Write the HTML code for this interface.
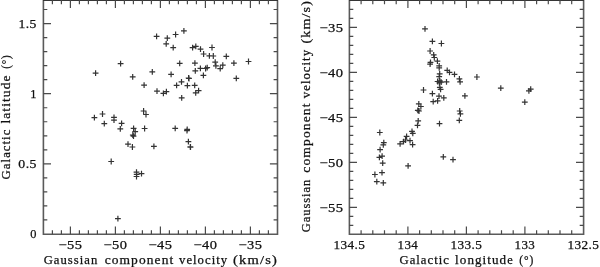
<!DOCTYPE html>
<html><head><meta charset="utf-8"><style>
html,body{margin:0;padding:0;background:#fff;width:600px;height:267px;overflow:hidden}
svg{display:block;will-change:transform}
text{font-family:"Liberation Serif",serif}
</style></head><body>
<svg width="600" height="267" viewBox="0 0 600 267">
<g fill="none" stroke="#5a5a5a" stroke-width="1.6"><path d="M43.4 0.3V234.2H277.5V0.3"/><path stroke="#363636" d="M42.9 0.3H278"/><path d="M349.4 0.3V234.2H583.6V0.3"/><path stroke="#363636" d="M348.9 0.3H584.1"/></g>
<path fill="none" stroke="#4a4a4a" stroke-width="1.2" d="M52.4 234.2v-3.9M52.4 0.3v3.9M61.4 234.2v-3.9M61.4 0.3v3.9M70.4 234.2v-7.6M70.4 0.3v7.6M79.4 234.2v-3.9M79.4 0.3v3.9M88.4 234.2v-3.9M88.4 0.3v3.9M97.4 234.2v-3.9M97.4 0.3v3.9M106.4 234.2v-3.9M106.4 0.3v3.9M115.4 234.2v-7.6M115.4 0.3v7.6M124.4 234.2v-3.9M124.4 0.3v3.9M133.4 234.2v-3.9M133.4 0.3v3.9M142.4 234.2v-3.9M142.4 0.3v3.9M151.4 234.2v-3.9M151.4 0.3v3.9M160.4 234.2v-7.6M160.4 0.3v7.6M169.4 234.2v-3.9M169.4 0.3v3.9M178.4 234.2v-3.9M178.4 0.3v3.9M187.4 234.2v-3.9M187.4 0.3v3.9M196.4 234.2v-3.9M196.4 0.3v3.9M205.4 234.2v-7.6M205.4 0.3v7.6M214.4 234.2v-3.9M214.4 0.3v3.9M223.4 234.2v-3.9M223.4 0.3v3.9M232.4 234.2v-3.9M232.4 0.3v3.9M241.4 234.2v-3.9M241.4 0.3v3.9M250.4 234.2v-7.6M250.4 0.3v7.6M259.4 234.2v-3.9M259.4 0.3v3.9M268.4 234.2v-3.9M268.4 0.3v3.9M43.4 219.97h3.9M277.5 219.97h-3.9M43.4 205.94h3.9M277.5 205.94h-3.9M43.4 191.91h3.9M277.5 191.91h-3.9M43.4 177.88h3.9M277.5 177.88h-3.9M43.4 163.85h7.6M277.5 163.85h-7.6M43.4 149.82h3.9M277.5 149.82h-3.9M43.4 135.79h3.9M277.5 135.79h-3.9M43.4 121.76h3.9M277.5 121.76h-3.9M43.4 107.73h3.9M277.5 107.73h-3.9M43.4 93.7h7.6M277.5 93.7h-7.6M43.4 79.67h3.9M277.5 79.67h-3.9M43.4 65.64h3.9M277.5 65.64h-3.9M43.4 51.61h3.9M277.5 51.61h-3.9M43.4 37.58h3.9M277.5 37.58h-3.9M43.4 23.55h7.6M277.5 23.55h-7.6M43.4 9.52h3.9M277.5 9.52h-3.9M361.1 234.2v-3.9M361.1 0.3v3.9M372.8 234.2v-3.9M372.8 0.3v3.9M384.5 234.2v-3.9M384.5 0.3v3.9M396.2 234.2v-3.9M396.2 0.3v3.9M407.9 234.2v-7.6M407.9 0.3v7.6M419.6 234.2v-3.9M419.6 0.3v3.9M431.3 234.2v-3.9M431.3 0.3v3.9M443 234.2v-3.9M443 0.3v3.9M454.7 234.2v-3.9M454.7 0.3v3.9M466.4 234.2v-7.6M466.4 0.3v7.6M478.1 234.2v-3.9M478.1 0.3v3.9M489.8 234.2v-3.9M489.8 0.3v3.9M501.5 234.2v-3.9M501.5 0.3v3.9M513.2 234.2v-3.9M513.2 0.3v3.9M524.9 234.2v-7.6M524.9 0.3v7.6M536.6 234.2v-3.9M536.6 0.3v3.9M548.3 234.2v-3.9M548.3 0.3v3.9M560 234.2v-3.9M560 0.3v3.9M571.7 234.2v-3.9M571.7 0.3v3.9M349.4 9.3h3.9M583.6 9.3h-3.9M349.4 18.3h3.9M583.6 18.3h-3.9M349.4 27.3h7.6M583.6 27.3h-7.6M349.4 36.3h3.9M583.6 36.3h-3.9M349.4 45.3h3.9M583.6 45.3h-3.9M349.4 54.3h3.9M583.6 54.3h-3.9M349.4 63.3h3.9M583.6 63.3h-3.9M349.4 72.3h7.6M583.6 72.3h-7.6M349.4 81.3h3.9M583.6 81.3h-3.9M349.4 90.3h3.9M583.6 90.3h-3.9M349.4 99.3h3.9M583.6 99.3h-3.9M349.4 108.3h3.9M583.6 108.3h-3.9M349.4 117.3h7.6M583.6 117.3h-7.6M349.4 126.3h3.9M583.6 126.3h-3.9M349.4 135.3h3.9M583.6 135.3h-3.9M349.4 144.3h3.9M583.6 144.3h-3.9M349.4 153.3h3.9M583.6 153.3h-3.9M349.4 162.3h7.6M583.6 162.3h-7.6M349.4 171.3h3.9M583.6 171.3h-3.9M349.4 180.3h3.9M583.6 180.3h-3.9M349.4 189.3h3.9M583.6 189.3h-3.9M349.4 198.3h3.9M583.6 198.3h-3.9M349.4 207.3h7.6M583.6 207.3h-7.6M349.4 216.3h3.9M583.6 216.3h-3.9M349.4 225.3h3.9M583.6 225.3h-3.9"/>
<path fill="none" stroke="#333" stroke-width="1.2" d="M92.7 73.2h5.8M95.6 70.3v5.8M117.7 63.6h5.8M120.6 60.7v5.8M129.8 76.8h5.8M132.7 73.9v5.8M153.7 36.3h5.8M156.6 33.4v5.8M164.4 38.2h5.8M167.3 35.3v5.8M163.3 43.9h5.8M166.2 41v5.8M172.7 34.5h5.8M175.6 31.6v5.8M181 30.8h5.8M183.9 27.9v5.8M170.3 47.7h5.8M173.2 44.8v5.8M189.7 47.6h5.8M192.6 44.7v5.8M192.9 46.4h5.8M195.8 43.5v5.8M197.6 49.1h5.8M200.5 46.2v5.8M209.1 47.5h5.8M212 44.6v5.8M200.7 54h5.8M203.6 51.1v5.8M206.5 55.8h5.8M209.4 52.9v5.8M210.4 56h5.8M213.3 53.1v5.8M223.4 56.3h5.8M226.3 53.4v5.8M176.8 63.4h5.8M179.7 60.5v5.8M192 63.2h5.8M194.9 60.3v5.8M212.3 62.1h5.8M215.2 59.2v5.8M213 65.9h5.8M215.9 63v5.8M219.9 65.2h5.8M222.8 62.3v5.8M231 63.2h5.8M233.9 60.3v5.8M245.6 61.5h5.8M248.5 58.6v5.8M149.4 71.9h5.8M152.3 69v5.8M168.2 74.4h5.8M171.1 71.5v5.8M192.4 70.8h5.8M195.3 67.9v5.8M197.5 68.3h5.8M200.4 65.4v5.8M202.7 68.5h5.8M205.6 65.6v5.8M204.3 67.7h5.8M207.2 64.8v5.8M200.5 75.4h5.8M203.4 72.5v5.8M185.7 78h5.8M188.6 75.1v5.8M186.1 78.5h5.8M189 75.6v5.8M217.3 68.7h5.8M220.2 65.8v5.8M233.4 78.4h5.8M236.3 75.5v5.8M141.2 85.1h5.8M144.1 82.2v5.8M154.1 91.1h5.8M157 88.2v5.8M160.5 93.4h5.8M163.4 90.5v5.8M163.5 91.6h5.8M166.4 88.7v5.8M173.7 85.3h5.8M176.6 82.4v5.8M178.6 81.8h5.8M181.5 78.9v5.8M184.5 85.7h5.8M187.4 82.8v5.8M191.8 85.4h5.8M194.7 82.5v5.8M195.7 90.7h5.8M198.6 87.8v5.8M192.8 92.9h5.8M195.7 90v5.8M178.8 97.9h5.8M181.7 95v5.8M91.5 117.7h5.8M94.4 114.8v5.8M99.6 114h5.8M102.5 111.1v5.8M101.4 123.6h5.8M104.3 120.7v5.8M111.1 117.4h5.8M114 114.5v5.8M111.1 120.2h5.8M114 117.3v5.8M118.7 123.3h5.8M121.6 120.4v5.8M117.4 128.8h5.8M120.3 125.9v5.8M130.7 128.3h5.8M133.6 125.4v5.8M132.3 131.7h5.8M135.2 128.8v5.8M129.9 135h5.8M132.8 132.1v5.8M130.6 136.2h5.8M133.5 133.3v5.8M141.7 128.5h5.8M144.6 125.6v5.8M125.1 144.2h5.8M128 141.3v5.8M129.5 147h5.8M132.4 144.1v5.8M140.7 111h5.8M143.6 108.1v5.8M143.1 114.5h5.8M146 111.6v5.8M172.3 128.3h5.8M175.2 125.4v5.8M184.3 129.3h5.8M187.2 126.4v5.8M184.1 130.6h5.8M187 127.7v5.8M185.5 141.6h5.8M188.4 138.7v5.8M187.4 146.8h5.8M190.3 143.9v5.8M187.6 147.2h5.8M190.5 144.3v5.8M108.3 161.5h5.8M111.2 158.6v5.8M133.6 172.2h5.8M136.5 169.3v5.8M133.8 174.4h5.8M136.7 171.5v5.8M133.6 176.5h5.8M136.5 173.6v5.8M138.6 173.7h5.8M141.5 170.8v5.8M115 218.7h5.8M117.9 215.8v5.8M151 146.4h5.8M153.9 143.5v5.8M422.1 28.8h5.8M425 25.9v5.8M429.5 41.4h5.8M432.4 38.5v5.8M438.5 43.5h5.8M441.4 40.6v5.8M427.2 51h5.8M430.1 48.1v5.8M430.8 54.9h5.8M433.7 52v5.8M431.4 57.5h5.8M434.3 54.6v5.8M434.5 61.2h5.8M437.4 58.3v5.8M427.6 62.4h5.8M430.5 59.5v5.8M427.2 64.2h5.8M430.1 61.3v5.8M436.3 65.8h5.8M439.2 62.9v5.8M436.3 67.8h5.8M439.2 64.9v5.8M444.3 70.4h5.8M447.2 67.5v5.8M446.6 72.4h5.8M449.5 69.5v5.8M451.6 74.4h5.8M454.5 71.5v5.8M456.5 78.9h5.8M459.4 76v5.8M457.2 81.9h5.8M460.1 79v5.8M474 77h5.8M476.9 74.1v5.8M436.8 73.9h5.8M439.7 71v5.8M436.3 76.6h5.8M439.2 73.7v5.8M434.7 81.5h5.8M437.6 78.6v5.8M436.5 82.8h5.8M439.4 79.9v5.8M438.3 82.2h5.8M441.2 79.3v5.8M443.6 81.8h5.8M446.5 78.9v5.8M436.9 87.4h5.8M439.8 84.5v5.8M437.7 89.3h5.8M440.6 86.4v5.8M436.9 80.8h5.8M439.8 77.9v5.8M429.5 93.6h5.8M432.4 90.7v5.8M436.1 96.1h5.8M439 93.2v5.8M440.9 97.8h5.8M443.8 94.9v5.8M430.3 101.7h5.8M433.2 98.8v5.8M434.7 100.8h5.8M437.6 97.9v5.8M420.6 90h5.8M423.5 87.1v5.8M415.9 103.9h5.8M418.8 101v5.8M418 106.5h5.8M420.9 103.6v5.8M414.9 110.4h5.8M417.8 107.5v5.8M416.1 111h5.8M419 108.1v5.8M415.3 120.8h5.8M418.2 117.9v5.8M414.6 125.3h5.8M417.5 122.4v5.8M409.1 131.4h5.8M412 128.5v5.8M409.9 133.4h5.8M412.8 130.5v5.8M403.7 136.3h5.8M406.6 133.4v5.8M402.6 140h5.8M405.5 137.1v5.8M407.1 140.7h5.8M410 137.8v5.8M400.6 141.6h5.8M403.5 138.7v5.8M397.2 143.9h5.8M400.1 141v5.8M409.7 144.6h5.8M412.6 141.7v5.8M380.9 142.7h5.8M383.8 139.8v5.8M380.4 144.9h5.8M383.3 142v5.8M377.2 149.6h5.8M380.1 146.7v5.8M379.2 156.1h5.8M382.1 153.2v5.8M376.5 157.4h5.8M379.4 154.5v5.8M379.8 163.1h5.8M382.7 160.2v5.8M379.1 172.7h5.8M382 169.8v5.8M372 174.5h5.8M374.9 171.6v5.8M373.9 181.6h5.8M376.8 178.7v5.8M380.4 182.9h5.8M383.3 180v5.8M405.2 165.8h5.8M408.1 162.9v5.8M440.4 156.9h5.8M443.3 154v5.8M450.1 159.6h5.8M453 156.7v5.8M497.9 88.2h5.8M500.8 85.3v5.8M527.8 89.2h5.8M530.7 86.3v5.8M526 90.9h5.8M528.9 88v5.8M521.9 102.2h5.8M524.8 99.3v5.8M462 95.8h5.8M464.9 92.9v5.8M456.8 111h5.8M459.7 108.1v5.8M457.5 113.9h5.8M460.4 111v5.8M456.4 120.4h5.8M459.3 117.5v5.8M376.9 132.5h5.8M379.8 129.6v5.8M436.6 123.6h5.8M439.5 120.7v5.8"/>
<g font-family="Liberation Serif, serif" font-size="12.4px" fill="#111" stroke="#111" stroke-width="0.25" letter-spacing="0.4"><text x="70.4" y="248.5" text-anchor="middle" textLength="24" lengthAdjust="spacingAndGlyphs">−55</text>
<text x="115.4" y="248.5" text-anchor="middle" textLength="24" lengthAdjust="spacingAndGlyphs">−50</text>
<text x="160.4" y="248.5" text-anchor="middle" textLength="24" lengthAdjust="spacingAndGlyphs">−45</text>
<text x="205.4" y="248.5" text-anchor="middle" textLength="24" lengthAdjust="spacingAndGlyphs">−40</text>
<text x="250.4" y="248.5" text-anchor="middle" textLength="24" lengthAdjust="spacingAndGlyphs">−35</text>
<text x="36.9" y="238.3" text-anchor="end">0</text>
<text x="36.9" y="168.15" text-anchor="end" textLength="18.6" lengthAdjust="spacingAndGlyphs">0.5</text>
<text x="36.9" y="98" text-anchor="end">1</text>
<text x="36.9" y="27.85" text-anchor="end" textLength="18.4" lengthAdjust="spacingAndGlyphs">1.5</text>
<text x="349.4" y="248.5" text-anchor="middle" textLength="32" lengthAdjust="spacingAndGlyphs">134.5</text>
<text x="407.9" y="248.5" text-anchor="middle" textLength="20.8" lengthAdjust="spacingAndGlyphs">134</text>
<text x="466.4" y="248.5" text-anchor="middle" textLength="32" lengthAdjust="spacingAndGlyphs">133.5</text>
<text x="524.9" y="248.5" text-anchor="middle" textLength="20.8" lengthAdjust="spacingAndGlyphs">133</text>
<text x="583.4" y="248.5" text-anchor="middle" textLength="32" lengthAdjust="spacingAndGlyphs">132.5</text>
<text x="343.6" y="32.1" text-anchor="end" textLength="24.2" lengthAdjust="spacingAndGlyphs">−35</text>
<text x="343.6" y="77.1" text-anchor="end" textLength="24.2" lengthAdjust="spacingAndGlyphs">−40</text>
<text x="343.6" y="122.1" text-anchor="end" textLength="24.2" lengthAdjust="spacingAndGlyphs">−45</text>
<text x="343.6" y="167.1" text-anchor="end" textLength="24.2" lengthAdjust="spacingAndGlyphs">−50</text>
<text x="343.6" y="212.1" text-anchor="end" textLength="24.2" lengthAdjust="spacingAndGlyphs">−55</text>
<text x="43.7" y="263.8" text-anchor="start" textLength="54.6" lengthAdjust="spacingAndGlyphs" letter-spacing="1">Gaussian</text>
<text x="104.7" y="263.8" text-anchor="start" textLength="69.6" lengthAdjust="spacingAndGlyphs" letter-spacing="1">component</text>
<text x="179" y="263.8" text-anchor="start" textLength="49.2" lengthAdjust="spacingAndGlyphs" letter-spacing="1">velocity</text>
<text x="233.1" y="263.8" text-anchor="start" textLength="45" lengthAdjust="spacingAndGlyphs" letter-spacing="1">(km/s)</text>
<text x="399.5" y="263.8" text-anchor="start" textLength="50.4" lengthAdjust="spacingAndGlyphs" letter-spacing="1">Galactic</text>
<text x="455.1" y="263.8" text-anchor="start" textLength="58.9" lengthAdjust="spacingAndGlyphs" letter-spacing="1">longitude</text>
<text x="519.2" y="263.8" text-anchor="start" textLength="15" lengthAdjust="spacingAndGlyphs" letter-spacing="1">(°)</text>
<text x="9.8" y="179.4" text-anchor="start" textLength="50.8" lengthAdjust="spacingAndGlyphs" transform="rotate(-90 9.8 179.4)" letter-spacing="1">Galactic</text>
<text x="9.8" y="123.6" text-anchor="start" textLength="49.2" lengthAdjust="spacingAndGlyphs" transform="rotate(-90 9.8 123.6)" letter-spacing="1">latitude</text>
<text x="9.8" y="68.8" text-anchor="start" textLength="14.4" lengthAdjust="spacingAndGlyphs" transform="rotate(-90 9.8 68.8)" letter-spacing="1">(°)</text>
<text x="309.7" y="232.3" text-anchor="start" textLength="53.6" lengthAdjust="spacingAndGlyphs" transform="rotate(-90 309.7 232.3)" letter-spacing="1">Gaussian</text>
<text x="309.7" y="172.7" text-anchor="start" textLength="70.3" lengthAdjust="spacingAndGlyphs" transform="rotate(-90 309.7 172.7)" letter-spacing="1">component</text>
<text x="309.7" y="98.2" text-anchor="start" textLength="49.3" lengthAdjust="spacingAndGlyphs" transform="rotate(-90 309.7 98.2)" letter-spacing="1">velocity</text>
<text x="309.7" y="43.6" text-anchor="start" textLength="43.6" lengthAdjust="spacingAndGlyphs" transform="rotate(-90 309.7 43.6)" letter-spacing="1">(km/s)</text></g>
</svg>
</body></html>
